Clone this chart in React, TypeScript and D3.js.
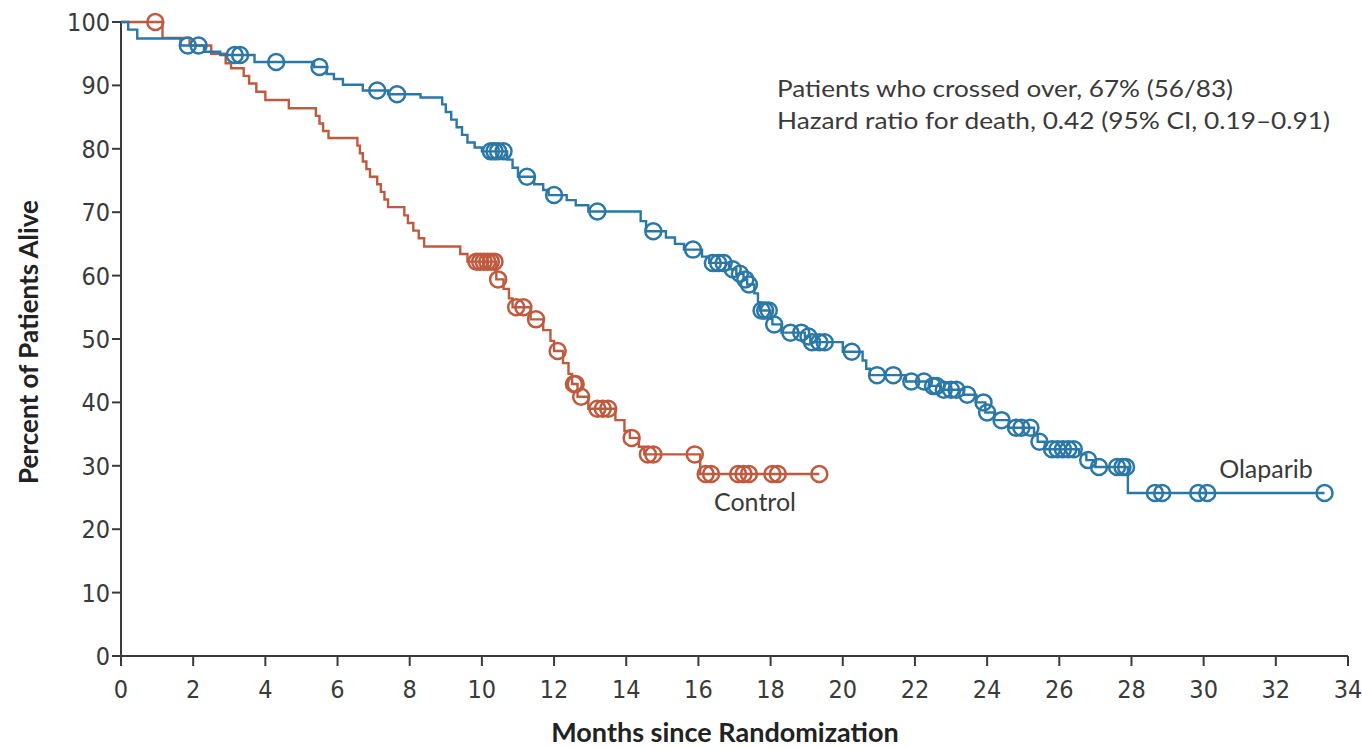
import React from "react"
import * as d3 from "d3"

// step points: time (months) and percent alive after the step
const controlTimes = [0, 1.15, 1.9, 2.5, 2.9, 3.05, 3.4, 3.55, 3.75, 4.0, 4.65, 5.4, 5.5, 5.6, 5.75, 6.55, 6.62, 6.7, 6.8, 6.9, 7.1, 7.2, 7.3, 7.4, 7.85, 7.95, 8.1, 8.25, 8.4, 9.4, 9.6, 10.4, 10.6, 10.75, 10.85, 11.35, 11.7, 11.9, 12.0, 12.25, 12.4, 12.5, 12.65, 12.95, 13.7, 13.95, 14.1, 14.35, 14.5, 16.05]
const controlValues = [100, 97.5, 96.3, 95.0, 93.5, 92.7, 91.5, 90.3, 89.0, 87.7, 86.4, 85.2, 84.0, 82.8, 81.7, 80.5, 79.3, 78.0, 76.8, 75.6, 74.4, 73.2, 72.0, 70.8, 69.5, 68.3, 67.1, 65.9, 64.6, 63.4, 62.2, 59.4, 57.9, 56.4, 55.0, 53.1, 51.4, 49.7, 48.1, 46.2, 44.5, 42.9, 40.9, 39.0, 37.2, 35.5, 34.4, 33.0, 31.8, 28.7]
const controlCensored = [0.95, 9.85, 9.95, 10.05, 10.15, 10.25, 10.35, 10.45, 10.95, 11.15, 11.5, 12.1, 12.55, 12.6, 12.75, 13.2, 13.35, 13.5, 14.15, 14.6, 14.75, 15.9, 16.2, 16.35, 17.1, 17.25, 17.4, 18.05, 18.2, 19.35]
const controlEnd = 19.35

const olaparibTimes = [0, 0.2, 0.45, 1.65, 2.3, 2.75, 3.7, 5.35, 5.7, 5.9, 6.15, 6.7, 7.4, 8.3, 8.9, 9.0, 9.15, 9.3, 9.45, 9.6, 9.8, 10.0, 10.7, 10.85, 11.0, 11.45, 11.7, 11.85, 12.35, 12.6, 12.95, 14.4, 14.55, 15.1, 15.35, 15.6, 16.1, 16.3, 16.85, 17.05, 17.25, 17.35, 17.55, 17.65, 17.7, 18.0, 18.05, 18.3, 18.95, 19.1, 20.0, 20.55, 20.65, 20.75, 21.75, 22.4, 22.7, 23.35, 23.7, 23.95, 24.2, 24.6, 25.3, 25.4, 25.6, 26.55, 26.75, 27.0, 27.9]
const olaparibValues = [100, 98.8, 97.4, 96.3, 95.3, 94.8, 93.7, 92.9, 91.8, 91.0, 90.1, 89.2, 88.6, 88.1, 87.0, 85.8, 84.6, 83.4, 82.2, 81.0, 80.2, 79.6, 78.3, 77.0, 75.6, 74.4, 73.5, 72.7, 71.9, 71.1, 70.1, 68.6, 67.0, 66.0, 65.0, 64.1, 63.0, 62.0, 61.0, 60.3, 59.4, 58.6, 57.2, 55.8, 54.5, 53.2, 52.3, 51.0, 50.4, 49.5, 48.0, 46.6, 45.3, 44.3, 43.3, 42.6, 42.0, 41.2, 40.0, 38.4, 37.2, 36.0, 34.8, 33.8, 32.6, 31.8, 30.9, 29.8, 25.7]
const olaparibCensored = [1.85, 2.15, 3.15, 3.3, 4.3, 5.5, 7.1, 7.65, 10.25, 10.35, 10.45, 10.6, 11.25, 12.0, 13.2, 14.75, 15.85, 16.4, 16.55, 16.7, 16.95, 17.15, 17.3, 17.4, 17.75, 17.85, 17.95, 18.1, 18.55, 18.85, 19.05, 19.15, 19.35, 19.5, 20.25, 20.95, 21.4, 21.9, 22.25, 22.5, 22.6, 22.8, 23.0, 23.15, 23.45, 23.9, 24.0, 24.4, 24.8, 24.95, 25.2, 25.45, 25.8, 25.95, 26.1, 26.25, 26.4, 26.8, 27.1, 27.6, 27.75, 27.85, 28.65, 28.85, 29.85, 30.1, 33.35]
const olaparibEnd = 33.35

const xTicks = d3.range(0, 36, 2)
const yTicks = d3.range(0, 110, 10)
const notes = ["Patients who crossed over, 67% (56/83)", "Hazard ratio for death, 0.42 (95% CI, 0.19\u20130.91)"]
const noteWidths = [456, 553]

const BLUE = "#2a78a8"
const RED = "#c05a3e"
const INK = "#3a3a3a"
const FONT = "'DejaVu Sans Condensed', 'Liberation Sans Narrow', sans-serif"
const TEXT_FONT = "Lato, 'Open Sans', sans-serif"

const W = 1362
const H = 748
const margin = { left: 121, right: 14, top: 22, bottom: 92 }

function stepAt(times: number[], values: number[], t: number) {
  let v = values[0]
  for (let i = 0; i < times.length; i++) {
    if (times[i] <= t) v = values[i]
  }
  return v
}

function Curve({ times, values, censored, end, color, x, y }: any) {
  const pts: [number, number][] = times.map((t: number, i: number) => [t, values[i]])
  pts.push([end, values[values.length - 1]])
  const line = d3
    .line<[number, number]>()
    .x(d => x(d[0]))
    .y(d => y(d[1]))
    .curve(d3.curveStepAfter)
  return (
    <g>
      <path d={line(pts) || ""} fill="none" stroke={color} strokeWidth={2.4} />
      {censored.map((t: number, i: number) => (
        <circle
          key={i}
          cx={x(t)}
          cy={y(stepAt(times, values, t))}
          r={8}
          fill="none"
          stroke={color}
          strokeWidth={2.5}
        />
      ))}
    </g>
  )
}

export default function App() {
  const x = d3.scaleLinear().domain([0, 34]).range([margin.left, W - margin.right])
  const y = d3.scaleLinear().domain([0, 100]).range([H - margin.bottom, margin.top])
  const y0 = y(0)

  return (
    <div style={{ position: "absolute", left: 0, top: 0 }}>
      <svg width={W} height={H} style={{ display: "block", background: "#fff" }}>
        {/* y axis */}
        <line x1={x(0)} x2={x(0)} y1={y(100)} y2={y0} stroke={INK} strokeWidth={2} />
        {yTicks.map(v => (
          <g key={v}>
            <line x1={x(0) - 9} x2={x(0)} y1={y(v)} y2={y(v)} stroke={INK} strokeWidth={2} />
            <text x={x(0) - 11} y={y(v)} dy="0.36em" textAnchor="end" fontFamily={FONT} fontSize={25} fill={INK}>
              {v}
            </text>
          </g>
        ))}
        {/* x axis */}
        <line x1={x(0)} x2={x(34)} y1={y0} y2={y0} stroke={INK} strokeWidth={2} />
        {xTicks.map(t => (
          <g key={t}>
            <line x1={x(t)} x2={x(t)} y1={y0} y2={y0 + 10} stroke={INK} strokeWidth={2} />
            <text x={x(t)} y={y0 + 42} textAnchor="middle" fontFamily={FONT} fontSize={25} fill={INK}>
              {t}
            </text>
          </g>
        ))}
        <text x={725} y={742} textAnchor="middle" fontFamily={TEXT_FONT} fontWeight="bold" fontSize={27} fill="#222">
          Months since Randomization
        </text>
        <text
          transform={`translate(38, ${y(50) + 3}) rotate(-90)`}
          textAnchor="middle"
          fontFamily={TEXT_FONT}
          fontWeight="bold"
          fontSize={26}
          fill="#222"
        >
          Percent of Patients Alive
        </text>

        <Curve times={controlTimes} values={controlValues} censored={controlCensored} end={controlEnd} color={RED} x={x} y={y} />
        <Curve times={olaparibTimes} values={olaparibValues} censored={olaparibCensored} end={olaparibEnd} color={BLUE} x={x} y={y} />

        <text x={755} y={511} textAnchor="middle" fontFamily={TEXT_FONT} fontSize={25} fill={INK}>
          Control
        </text>
        <text x={1266} y={478} textAnchor="middle" fontFamily={TEXT_FONT} fontSize={25} fill={INK}>
          Olaparib
        </text>

        {notes.map((n, i) => (
          <text
            key={i}
            x={777}
            y={97 + i * 32}
            fontFamily={TEXT_FONT}
            fontSize={23}
            textLength={noteWidths[i]}
            lengthAdjust="spacingAndGlyphs"
            fill={INK}
          >
            {n}
          </text>
        ))}
      </svg>
    </div>
  )
}
